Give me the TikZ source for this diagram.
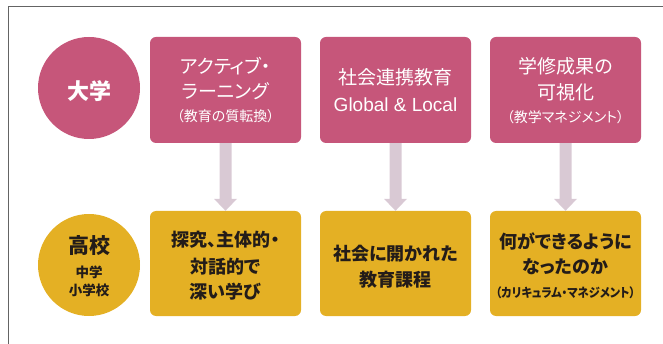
\documentclass[tikz,border=0pt]{standalone}
\usepackage{fontspec}
\newfontfamily\jp[RawFeature=+palt]{Noto Sans CJK JP}
\newfontfamily\jpc[RawFeature=+palt,FakeStretch=0.9]{Noto Sans CJK JP}
\newfontfamily\lat{Liberation Sans}
\definecolor{pinkc}{RGB}{198,86,122}
\definecolor{yellc}{RGB}{228,176,36}
\definecolor{arrc}{RGB}{217,201,212}
\definecolor{framec}{RGB}{100,100,100}
\definecolor{darkt}{RGB}{35,28,25}
\tikzset{
  topbox/.style={draw=none,fill=pinkc,rounded corners=6pt,minimum width=151pt,minimum height=106pt,inner sep=0pt},
  botbox/.style={draw=none,fill=yellc,rounded corners=6pt,minimum width=151pt,minimum height=105pt,inner sep=0pt},
  circ/.style={circle,draw=none,minimum size=102pt,inner sep=0pt},
  wt/.style={text=white,inner sep=0pt,font=\jp\fontsize{19}{22}\selectfont},
  wts/.style={text=white,inner sep=0pt,font=\jp\fontsize{14}{16}\selectfont},
  dt/.style={text=darkt,inner sep=0pt,font=\jp\bfseries\fontsize{18}{20}\selectfont},
  dts/.style={text=darkt,inner sep=0pt,font=\jpc\bfseries\fontsize{12.5}{14}\selectfont},
}
\begin{document}
\begin{tikzpicture}[x=1pt,y=-1pt]
\useasboundingbox (0,0) rectangle (663,344);
% frame
\draw[framec,line width=1.5pt] (8.5,344) -- (8.5,6.5) -- (663,6.5);
% circles
\node[circ,fill=pinkc] (c1) at (89,88) {};
\node[circ,fill=yellc] (c2) at (89,265) {};
\node[text=white,inner sep=0pt,font=\jp\bfseries\fontsize{22}{24}\selectfont] (c1t) at (89,91) {大学};
\node[text=darkt,inner sep=0pt,font=\jp\bfseries\fontsize{21}{24}\selectfont] (c2t) at (89,246) {高校};
\node[text=darkt,inner sep=0pt,font=\jp\bfseries\fontsize{13.5}{15}\selectfont] (c2a) at (89,272) {中学};
\node[text=darkt,inner sep=0pt,font=\jp\bfseries\fontsize{13.5}{15}\selectfont] (c2b) at (89,290) {小学校};
% boxes
\node[topbox] (t1) at (225.5,90) {};
\node[topbox] (t2) at (395.5,90) {};
\node[topbox] (t3) at (565.5,90) {};
\node[botbox] (b1) at (225.5,263.5) {};
\node[botbox] (b2) at (395.5,263.5) {};
\node[botbox] (b3) at (565.5,263.5) {};
% arrows
\foreach \i in {1,2,3}{
  \fill[arrc] ([xshift=-6pt]t\i.south) -- ([xshift=6pt]t\i.south)
    -- ([xshift=6pt,yshift=12pt]b\i.north) -- ([xshift=11.5pt,yshift=12pt]b\i.north)
    -- (b\i.north) -- ([xshift=-11.5pt,yshift=12pt]b\i.north)
    -- ([xshift=-6pt,yshift=12pt]b\i.north) -- cycle;
}
% top texts
\node[wt] (t1a) at (225.5,66) {アクティブ・};
\node[wt] (t1b) at (225.5,91) {ラーニング};
\node[wts] (t1c) at (225.5,116) {（教育の質転換）};
\node[wt] (t2a) at (395.5,77) {社会連携教育};
\node[text=white,inner sep=0pt,font=\lat\fontsize{19}{22}\selectfont] (t2b) at (395.5,104.5) {Global \& Local};
\node[wt] (t3a) at (565.5,66) {学修成果の};
\node[wt] (t3b) at (565.5,92) {可視化};
\node[wts] (t3c) at (565.5,117) {（教学マネジメント）};
% bottom texts
\node[dt] (b1a) at (225.5,240) {探究、主体的・};
\node[dt] (b1b) at (225.5,267) {対話的で};
\node[dt] (b1c) at (225.5,292) {深い学び};
\node[dt] (b2a) at (395.5,254) {社会に開かれた};
\node[dt] (b2b) at (395.5,280) {教育課程};
\node[dt] (b3a) at (565.5,241) {何ができるように};
\node[dt] (b3b) at (565.5,267) {なったのか};
\node[dts] (b3c) at (565.5,293) {（カリキュラム・マネジメント）};
\end{tikzpicture}
\end{document}
